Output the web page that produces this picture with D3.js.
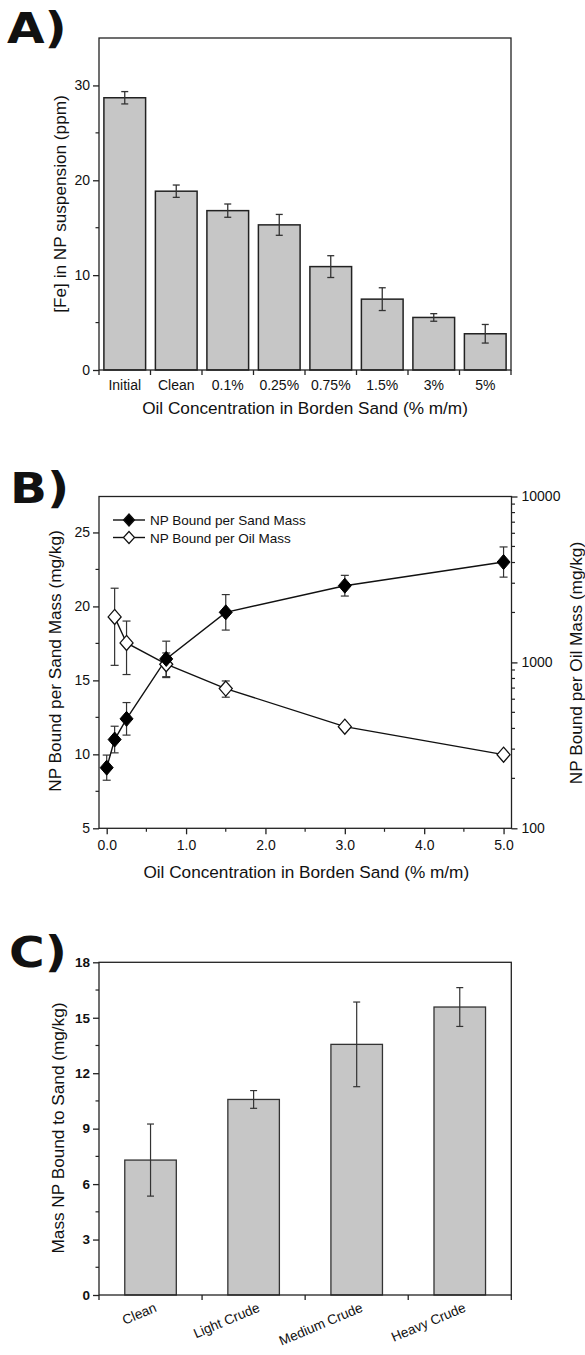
<!DOCTYPE html>
<html>
<head>
<meta charset="utf-8">
<script src="https://cdn.jsdelivr.net/npm/d3@7"></script>
<style>
  html, body { margin: 0; padding: 0; background: #fff; }
  svg { display: block; }
  text { font-family: "Liberation Sans", Arial, sans-serif; fill: #111; }
  .panel-tag { font-family: "DejaVu Sans", sans-serif; font-weight: bold; font-size: 43px; }
</style>
</head>
<body>
<svg id="fig" width="585" height="1355"></svg>
<script>
// ---- Panel A: iron remaining in suspension ----
const feCategories = ["Initial", "Clean", "0.1%", "0.25%", "0.75%", "1.5%", "3%", "5%"];
const feValues = [28.7, 18.85, 16.8, 15.3, 10.9, 7.47, 5.54, 3.82];
const feErrors = [0.65, 0.65, 0.7, 1.1, 1.15, 1.2, 0.4, 0.98];
const feTicks = [0, 10, 20, 30];

// ---- Panel B: NP bound vs oil concentration ----
const oilConc = [0, 0.1, 0.25, 0.75, 1.5, 3.0, 5.0];
const sandMass = [9.1, 11.0, 12.4, 16.45, 19.6, 21.4, 23.0];
const sandMassErr = [0.85, 0.9, 1.1, 1.2, 1.2, 0.7, 1.02];
const oilConcOil = [0.1, 0.25, 0.75, 1.5, 3.0, 5.0];
const oilMass = [1880, 1310, 975, 695, 410, 278];
const oilMassErr = [920, 465, 165, 78, 14, 10];
const bXTicks = [0, 1, 2, 3, 4, 5];
const bLeftTicks = [5, 10, 15, 20, 25];
const bRightTicks = [100, 1000, 10000];
const seriesNames = ["NP Bound per Sand Mass", "NP Bound per Oil Mass"];

// ---- Panel C: NP bound by crude type ----
const crudeCategories = ["Clean", "Light Crude", "Medium Crude", "Heavy Crude"];
const crudeValues = [7.3, 10.58, 13.56, 15.58];
const crudeErrors = [1.95, 0.48, 2.29, 1.05];
const crudeTicks = [0, 3, 6, 9, 12, 15, 18];

const svg = d3.select("#fig");
const BAR_FILL = "#c6c6c6";
const INK = "#222";
const TICK_FS = 14;
const TITLE_FS = 17.2;

function frame(g, x0, x1, y0, y1) {
  g.append("rect").attr("x", x0).attr("y", y0).attr("width", x1 - x0).attr("height", y1 - y0)
    .attr("fill", "none").attr("stroke", INK).attr("stroke-width", 1.3);
}

function styleAxis(sel, size) {
  sel.select(".domain").remove();
  sel.selectAll(".tick line").attr("stroke", INK).attr("stroke-width", 1.3);
  sel.selectAll(".tick text").style("font-size", size + "px").attr("fill", "#111");
}

function minorTicks(g, scale, values, orient, pos, len) {
  values.forEach(v => {
    const p = scale(v);
    if (orient === "left") g.append("line").attr("x1", pos).attr("x2", pos - len).attr("y1", p).attr("y2", p);
    else if (orient === "right") g.append("line").attr("x1", pos).attr("x2", pos + len).attr("y1", p).attr("y2", p);
    else g.append("line").attr("y1", pos).attr("y2", pos + len).attr("x1", p).attr("x2", p);
  });
  g.selectAll("line").attr("stroke", INK).attr("stroke-width", 1.2);
}

function errorBar(g, x, yTop, yBot, cap) {
  g.append("line").attr("x1", x).attr("x2", x).attr("y1", yTop).attr("y2", yBot);
  g.append("line").attr("x1", x - cap).attr("x2", x + cap).attr("y1", yTop).attr("y2", yTop);
  g.append("line").attr("x1", x - cap).attr("x2", x + cap).attr("y1", yBot).attr("y2", yBot);
}

function panelTag(x, y, label) {
  svg.append("text").attr("class", "panel-tag")
    .attr("transform", `translate(${x},${y}) scale(1.13,1)`).text(label);
}

// ================= Panel A =================
(function () {
  const L = 99, R = 511, T = 38, B = 370;
  const g = svg.append("g");
  const x = d3.scaleBand().domain(feCategories).range([L, R]).paddingInner(0.19).paddingOuter(0.095);
  const y = d3.scaleLinear().domain([0, 35]).range([B, T]);

  g.selectAll("rect.bar").data(feValues).join("rect").attr("class", "bar")
    .attr("x", (d, i) => x(feCategories[i])).attr("width", x.bandwidth())
    .attr("y", d => y(d)).attr("height", d => B - y(d))
    .attr("fill", BAR_FILL).attr("stroke", INK).attr("stroke-width", 1.5);

  const eb = g.append("g").attr("stroke", "#333").attr("stroke-width", 1.3);
  feValues.forEach((v, i) => {
    const cx = x(feCategories[i]) + x.bandwidth() / 2;
    errorBar(eb, cx, y(v + feErrors[i]), y(v - feErrors[i]), 3.5);
  });

  frame(g, L, R, T, B);

  const ya = g.append("g").attr("transform", `translate(${L},0)`)
    .call(d3.axisLeft(y).tickValues(feTicks).tickSize(6).tickPadding(3));
  styleAxis(ya, TICK_FS);
  minorTicks(g.append("g"), y, [5, 15, 25], "left", L, 3.5);

  // category tick marks at band boundaries
  const step = x.step();
  const bt = g.append("g");
  d3.range(0, feCategories.length + 1).forEach(i => {
    const p = L + i * step;
    bt.append("line").attr("x1", p).attr("x2", p).attr("y1", B).attr("y2", B + 5);
  });
  bt.selectAll("line").attr("stroke", INK).attr("stroke-width", 1.3);

  g.selectAll("text.cat").data(feCategories).join("text").attr("class", "cat")
    .attr("x", d => x(d) + x.bandwidth() / 2).attr("y", 390)
    .attr("text-anchor", "middle").style("font-size", TICK_FS + "px").text(d => d);

  g.append("text").attr("x", (L + R) / 2).attr("y", 414).attr("text-anchor", "middle")
    .style("font-size", TITLE_FS + "px").text("Oil Concentration in Borden Sand (% m/m)");
  g.append("text").attr("transform", "translate(66,204) rotate(-90)").attr("text-anchor", "middle")
    .style("font-size", TITLE_FS + "px").text("[Fe] in NP suspension (ppm)");

  panelTag(7, 43, "A)");
})();

// ================= Panel B =================
(function () {
  const L = 99, R = 511.5, T = 496.5, B = 828.3;
  const g = svg.append("g");
  const x = d3.scaleLinear().domain([-0.097, 5.1]).range([L, R]);
  const yL = d3.scaleLinear().domain([5, 27.43]).range([B, T]);
  const yR = d3.scaleLog().domain([100, 10000]).range([B, T]);

  frame(g, L, R, T, B);

  const xa = g.append("g").attr("transform", `translate(0,${B})`)
    .call(d3.axisBottom(x).tickValues(bXTicks).tickFormat(d3.format(".1f")).tickSize(6).tickPadding(6));
  styleAxis(xa, TICK_FS);
  minorTicks(g.append("g"), x, [0.5, 1.5, 2.5, 3.5, 4.5], "bottom", B, 3.5);

  const yla = g.append("g").attr("transform", `translate(${L},0)`)
    .call(d3.axisLeft(yL).tickValues(bLeftTicks).tickSize(6).tickPadding(3));
  styleAxis(yla, TICK_FS);
  minorTicks(g.append("g"), yL, [7.5, 12.5, 17.5, 22.5], "left", L, 3.5);

  const yra = g.append("g").attr("transform", `translate(${R},0)`)
    .call(d3.axisRight(yR).tickValues(bRightTicks).tickFormat(d3.format("d")).tickSize(6).tickPadding(4));
  styleAxis(yra, TICK_FS);
  const logMinor = [];
  [100, 1000].forEach(dec => d3.range(2, 10).forEach(m => logMinor.push(dec * m)));
  minorTicks(g.append("g"), yR, logMinor, "right", R, 3.5);

  const diamond = "M0,-7.5L6.5,0L0,7.5L-6.5,0Z";

  // error bars
  const eb = g.append("g").attr("stroke", "#333").attr("stroke-width", 1.2);
  sandMass.forEach((v, i) => errorBar(eb, x(oilConc[i]), yL(v + sandMassErr[i]), yL(v - sandMassErr[i]), 4));
  oilMass.forEach((v, i) => errorBar(eb, x(oilConcOil[i]), yR(v + oilMassErr[i]), yR(v - oilMassErr[i]), 4));

  // connecting lines
  const lineL = d3.line().x((d, i) => x(oilConc[i])).y(d => yL(d));
  const lineR = d3.line().x((d, i) => x(oilConcOil[i])).y(d => yR(d));
  g.append("path").attr("d", lineL(sandMass)).attr("fill", "none").attr("stroke", "#111").attr("stroke-width", 1.4);
  g.append("path").attr("d", lineR(oilMass)).attr("fill", "none").attr("stroke", "#111").attr("stroke-width", 1.4);

  // markers
  g.selectAll("path.open").data(oilMass).join("path").attr("class", "open")
    .attr("d", diamond).attr("transform", (d, i) => `translate(${x(oilConcOil[i])},${yR(d)})`)
    .attr("fill", "#fff").attr("stroke", "#111").attr("stroke-width", 1.3);
  g.selectAll("path.filled").data(sandMass).join("path").attr("class", "filled")
    .attr("d", diamond).attr("transform", (d, i) => `translate(${x(oilConc[i])},${yL(d)})`)
    .attr("fill", "#000").attr("stroke", "#000").attr("stroke-width", 1);

  // legend
  const lg = g.append("g");
  seriesNames.forEach((name, i) => {
    const ly = 520 + i * 17.5;
    lg.append("line").attr("x1", 113).attr("x2", 145).attr("y1", ly).attr("y2", ly)
      .attr("stroke", "#111").attr("stroke-width", 1.4);
    lg.append("path").attr("d", "M0,-6L5.5,0L0,6L-5.5,0Z").attr("transform", `translate(129,${ly})`)
      .attr("fill", i === 0 ? "#000" : "#fff").attr("stroke", "#111").attr("stroke-width", 1.2);
    lg.append("text").attr("x", 150).attr("y", ly + 5).style("font-size", "13.5px").text(name);
  });

  g.append("text").attr("x", (L + R) / 2 + 1).attr("y", 878).attr("text-anchor", "middle")
    .style("font-size", TITLE_FS + "px").text("Oil Concentration in Borden Sand (% m/m)");
  g.append("text").attr("transform", "translate(61,661) rotate(-90)").attr("text-anchor", "middle")
    .style("font-size", TITLE_FS + "px").text("NP Bound per Sand Mass (mg/kg)");
  g.append("text").attr("transform", "translate(582,663) rotate(-90)").attr("text-anchor", "middle")
    .style("font-size", TITLE_FS + "px").text("NP Bound per Oil Mass (mg/kg)");

  panelTag(10, 503, "B)");
})();

// ================= Panel C =================
(function () {
  const L = 99, R = 511.3, T = 962.3, B = 1295;
  const g = svg.append("g");
  const x = d3.scaleBand().domain(crudeCategories).range([L, R]).paddingInner(0.5).paddingOuter(0.25);
  const y = d3.scaleLinear().domain([0, 18]).range([B, T]);

  g.selectAll("rect.bar").data(crudeValues).join("rect").attr("class", "bar")
    .attr("x", (d, i) => x(crudeCategories[i])).attr("width", x.bandwidth())
    .attr("y", d => y(d)).attr("height", d => B - y(d))
    .attr("fill", BAR_FILL).attr("stroke", "#333").attr("stroke-width", 1.3);

  const eb = g.append("g").attr("stroke", "#333").attr("stroke-width", 1.2);
  crudeValues.forEach((v, i) => {
    const cx = x(crudeCategories[i]) + x.bandwidth() / 2;
    errorBar(eb, cx, y(v + crudeErrors[i]), y(v - crudeErrors[i]), 3.5);
  });

  frame(g, L, R, T, B);

  const ya = g.append("g").attr("transform", `translate(${L},0)`)
    .call(d3.axisLeft(y).tickValues(crudeTicks).tickSize(6).tickPadding(3));
  styleAxis(ya, 13.5);
  ya.selectAll(".tick text").style("font-weight", "bold");
  minorTicks(g.append("g"), y, [1.5, 4.5, 7.5, 10.5, 13.5, 16.5], "left", L, 3.5);

  const step = x.step();
  const bt = g.append("g");
  d3.range(0, crudeCategories.length + 1).forEach(i => {
    const p = L + i * step;
    bt.append("line").attr("x1", p).attr("x2", p).attr("y1", B).attr("y2", B + 5);
  });
  bt.selectAll("line").attr("stroke", INK).attr("stroke-width", 1.3);

  g.selectAll("text.cat").data(crudeCategories).join("text").attr("class", "cat")
    .attr("transform", d => `translate(${x(d) + x.bandwidth() / 2 + 7},${1311}) rotate(-23)`)
    .attr("text-anchor", "end").style("font-size", "13.6px").text(d => d);

  g.append("text").attr("transform", "translate(64,1128) rotate(-90)").attr("text-anchor", "middle")
    .style("font-size", TITLE_FS + "px").text("Mass NP Bound to Sand (mg/kg)");

  panelTag(9, 967, "C)");
})();
</script>
</body>
</html>
